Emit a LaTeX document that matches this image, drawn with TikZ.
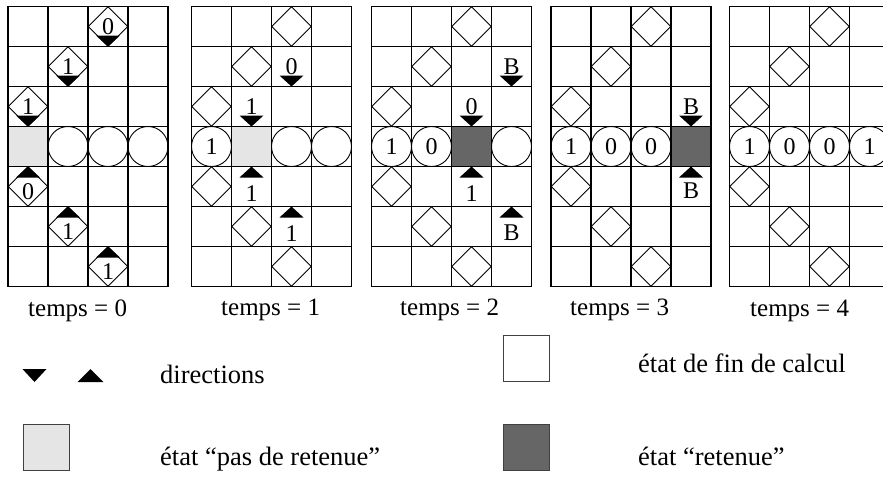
\documentclass[tikz,border=0pt]{standalone}
\usepackage{fontspec}
\setmainfont{Liberation Serif}
\usetikzlibrary{shapes.geometric}
\definecolor{sansret}{gray}{0.9}
\definecolor{ret}{gray}{0.4}
% triangles de direction, pointe sur le bord de la cellule
\newcommand{\versbas}[1]{\fill ([yshift=-20pt]#1) -- ++(-12,-11) -- ++(24,0) -- cycle;}
\newcommand{\vershaut}[1]{\fill ([yshift=20pt]#1) -- ++(-12,11) -- ++(24,0) -- cycle;}

\begin{document}
\begin{tikzpicture}[x=1pt, y=-1pt,
    trait/.style = {line width=1.2pt, line cap=rect},
    rond/.style = {circle, draw, line width=0.9pt, minimum size=40, inner sep=0pt, font=\fontsize{24}{24}\selectfont},
    losange/.style = {diamond, draw, line width=0.9pt, minimum size=40, inner sep=0pt},
    chiffre/.style = {inner sep=0pt, font=\fontsize{24}{24}\selectfont},
    temps/.style = {anchor=base west, inner sep=0pt, font=\fontsize{25}{25}\selectfont},
    legende/.style = {anchor=base west, inner sep=0pt, font=\fontsize{26.5}{26.5}\selectfont},
    carre/.style = {draw=black!75, line width=1pt, minimum size=46, inner sep=0pt}]
    \clip (0,0) rectangle (883,480);
    % cellules grises
    \fill[sansret] (8,126.5) rectangle ++(40,40);
    \fill[sansret] (231.5,126.5) rectangle ++(40,40);
    \fill[ret] (451.5,126.5) rectangle ++(40,40);
    \fill[ret] (671,126.5) rectangle ++(40,40);
    % grilles
    \foreach \g/\gx/\tx/\ty in {0/8/28/316, 1/191.5/221/315, 2/371.5/400/315, 3/551/570/315, 4/729.5/750/316} {
        \begin{scope}[shift={(\gx,6.5)}]
            \foreach \i in {0,...,4} \draw[trait] (40*\i,0) -- (40*\i,280);
            \foreach \j in {0,...,7} \draw[trait] (0,40*\j) -- (160,40*\j);
            \foreach \cc in {0,...,3} \foreach \rr in {0,...,6}
                \coordinate (g\g-\cc-\rr) at (40*\cc+20,40*\rr+20);
            \foreach \cc/\rr in {2/0,1/1,0/2,0/4,1/5,2/6}
                \node[losange] (los\g-\cc-\rr) at (g\g-\cc-\rr) {};
        \end{scope}
        \node[temps] (temps\g) at (\tx,\ty) {temps = \g};
    }
    % temps = 0
    \node[rond] (r0-1) at (g0-1-3) {};
    \node[rond] (r0-2) at (g0-2-3) {};
    \node[rond] (r0-3) at (g0-3-3) {};
    \node[chiffre] (n0-2-0) at (g0-2-0) {0}; \versbas{g0-2-0}
    \node[chiffre] (n0-1-1) at (g0-1-1) {1}; \versbas{g0-1-1}
    \node[chiffre] (n0-0-2) at (g0-0-2) {1}; \versbas{g0-0-2}
    \node[chiffre] (n0-0-4) at ([yshift=-5pt]g0-0-4) {0}; \vershaut{g0-0-4}
    \node[chiffre] (n0-1-5) at ([yshift=-5pt]g0-1-5) {1}; \vershaut{g0-1-5}
    \node[chiffre] (n0-2-6) at ([yshift=-5pt]g0-2-6) {1}; \vershaut{g0-2-6}
    % temps = 1
    \node[rond] (r1-0) at (g1-0-3) {1};
    \node[rond] (r1-2) at (g1-2-3) {};
    \node[rond] (r1-3) at (g1-3-3) {};
    \node[chiffre] (n1-2-1) at (g1-2-1) {0}; \versbas{g1-2-1}
    \node[chiffre] (n1-1-2) at (g1-1-2) {1}; \versbas{g1-1-2}
    \node[chiffre] (n1-1-4) at ([yshift=-7pt]g1-1-4) {1}; \vershaut{g1-1-4}
    \node[chiffre] (n1-2-5) at ([yshift=-7pt]g1-2-5) {1}; \vershaut{g1-2-5}
    % temps = 2
    \node[rond] (r2-0) at (g2-0-3) {1};
    \node[rond] (r2-1) at (g2-1-3) {0};
    \node[rond] (r2-3) at (g2-3-3) {};
    \node[chiffre] (n2-3-1) at (g2-3-1) {B}; \versbas{g2-3-1}
    \node[chiffre] (n2-2-2) at (g2-2-2) {0}; \versbas{g2-2-2}
    \node[chiffre] (n2-2-4) at ([yshift=-7pt]g2-2-4) {1}; \vershaut{g2-2-4}
    \node[chiffre] (n2-3-5) at ([yshift=-6pt]g2-3-5) {B}; \vershaut{g2-3-5}
    % temps = 3
    \node[rond] (r3-0) at (g3-0-3) {1};
    \node[rond] (r3-1) at (g3-1-3) {0};
    \node[rond] (r3-2) at (g3-2-3) {0};
    \node[chiffre] (n3-3-2) at (g3-3-2) {B}; \versbas{g3-3-2}
    \node[chiffre] (n3-3-4) at ([yshift=-4pt]g3-3-4) {B}; \vershaut{g3-3-4}
    % temps = 4
    \node[rond] (r4-0) at (g4-0-3) {1};
    \node[rond] (r4-1) at (g4-1-3) {0};
    \node[rond] (r4-2) at (g4-2-3) {0};
    \node[rond] (r4-3) at (g4-3-3) {1};
    % legende
    \fill (22.5,369) -- (46.5,369) -- (34.5,382) -- cycle;
    \fill (77.5,382) -- (103.5,382) -- (90.5,369) -- cycle;
    \node[legende] (dir) at (160,383) {directions};
    \node[carre, fill=sansret] (cle-sr) at (46,447) {};
    \node[legende] (txt-sr) at (160,465) {état “pas de retenue”};
    \node[carre, fill=white] (cle-fin) at (526,358) {};
    \node[legende] (txt-fin) at (638,372) {état de fin de calcul};
    \node[carre, fill=ret] (cle-r) at (526,447) {};
    \node[legende] (txt-r) at (638,465) {état “retenue”};
\end{tikzpicture}
\end{document}
